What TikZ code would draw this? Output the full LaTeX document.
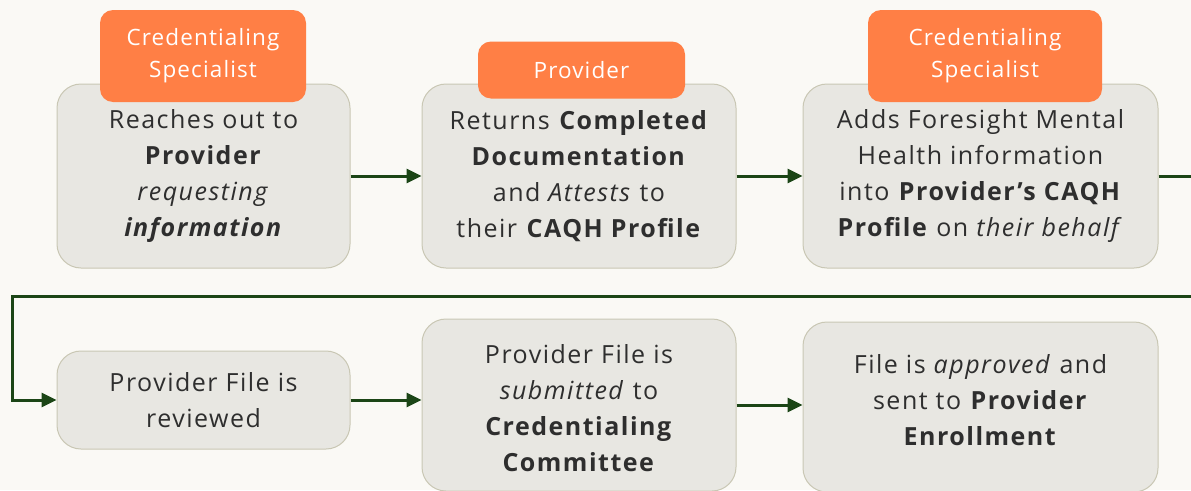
\documentclass[tikz,border=0pt]{standalone}
\usepackage{fontspec}
\setmainfont{Open Sans}
\newfontfamily\cardfont{Open Sans}[LetterSpace=6]
\newfontfamily\tabfont{Open Sans}[LetterSpace=5]
\usetikzlibrary{arrows.meta}
\definecolor{pagebg}{HTML}{FAF9F5}
\definecolor{cardfill}{HTML}{E8E7E2}
\definecolor{cardline}{HTML}{C9C7B4}
\definecolor{tabfill}{HTML}{FF7F45}
\definecolor{flowgreen}{HTML}{1B4516}
\definecolor{inktext}{HTML}{2E2E2E}
\begin{document}
\begin{tikzpicture}[x=1pt,y=-1pt,
	stepcard/.style={draw=cardline,line width=1pt,fill=cardfill,rounded corners=24pt,
		text=inktext,align=center,inner sep=0pt,font=\cardfont\fontsize{25}{36}\selectfont},
	steptext/.style={text=inktext,align=center,inner sep=0pt,font=\cardfont\fontsize{25}{36}\selectfont},
	roletab/.style={fill=tabfill,rounded corners=13pt,text=white,align=center,
		inner sep=0pt,font=\tabfont\fontsize{22.5}{32}\selectfont},
	flow/.style={draw=flowgreen,line width=3pt,-{Triangle[length=15pt,width=14pt]}},
	flowline/.style={draw=flowgreen,line width=3pt}]
		\clip (0,0) rectangle (1191,490);
		\fill [pagebg] (0,0) rectangle (1191,490);
		% top row
		\node [stepcard,minimum width=293pt,minimum height=184pt] (b1) at (203.5,176)
			{Reaches out to\\\textbf{Provider}\\\textit{requesting}\\\textbf{\textit{information}}};
		\node [stepcard,minimum width=314pt,minimum height=184pt] (b2) at (579,176)
			{Returns \textbf{Completed}\\\textbf{Documentation}\\and \textit{Attests} to\\their \textbf{CAQH Profile}};
		\node [stepcard,minimum width=355pt,minimum height=184pt] (b3) at (980.5,176)
			{Adds Foresight Mental\\Health information\\into \textbf{Provider’s CAQH}\\\textbf{Profile} on \textit{their behalf}};
		\node [roletab,minimum width=206pt,minimum height=92pt] (t1) at (203,56) {Credentialing\\Specialist};
		\node [roletab,minimum width=207pt,minimum height=57pt] (t2) at (581.5,70) {Provider};
		\node [roletab,minimum width=234pt,minimum height=92pt] (t3) at (985,56) {Credentialing\\Specialist};
		% bottom row
		\node [stepcard,minimum width=293pt,minimum height=98pt] (b4) at (203.5,400)
			{Provider File is\\reviewed};
		\node [stepcard,minimum width=314pt,minimum height=172pt] (b5) at (579,405) {};
		\node [steptext] (b5text) at (579,408)
			{Provider File is\\\textit{submitted} to\\\textbf{Credentialing}\\\textbf{Committee}};
		\node [stepcard,minimum width=355pt,minimum height=170pt] (b6) at (980.5,407) {};
		\node [steptext] (b6text) at (980.5,400)
			{File is \textit{approved} and\\sent to \textbf{Provider}\\\textbf{Enrollment}};
		% connectors
		\coordinate (edgeA) at (1191,176);
		\coordinate (edgeB) at (1191,296);
		\coordinate (turn) at (12,296);
		\draw [flow] (b1) -- (b2);
		\draw [flow] (b2) -- (b3);
		\draw [flowline] (b3) -- (edgeA);
		\draw [flow] (edgeB) -- (turn) |- (b4);
		\draw [flow] (b4.east) -- (b4.east -| b5.west);
		\draw [flow] (b5.east) -- (b5.east -| b6.west);
	\end{tikzpicture}
\end{document}
